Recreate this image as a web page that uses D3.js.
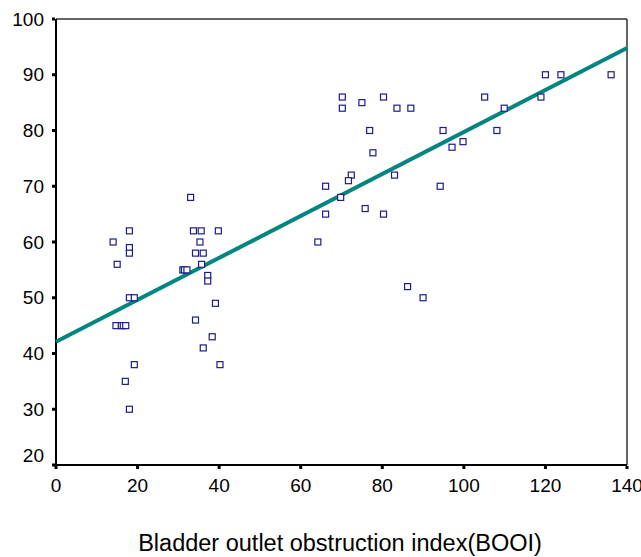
<!DOCTYPE html>
<html>
<head>
<meta charset="utf-8">
<script src="https://cdn.jsdelivr.net/npm/d3@7"></script>
<style>
  body { margin: 0; background: #fff; }
  svg { display: block; font-family: Arial, "Liberation Sans", sans-serif; }
</style>
</head>
<body>
<svg id="chart" width="641" height="557"></svg>
<script>
"use strict";

// BOOI values (x) and the matching outcome (y)
const booi = [14, 15, 14.7, 16, 16.5, 17.1, 19.2, 17, 18, 18, 18, 18, 18, 19.2,
  33, 33.7, 35.6, 39.8, 35.3, 34.2, 36.1, 35.7, 31.1, 31.5, 32.1, 37.2, 37.2,
  39.1, 34.2, 38.3, 36.1, 40.2,
  70.2, 70.2, 75, 80.3, 83.6, 87, 76.9, 77.7, 72.4, 71.7, 66.1, 69.8, 83,
  66.1, 75.8, 80.3, 64.2, 86.2, 90, 94.9, 97.1, 99.8, 94.2,
  120, 123.8, 136.1, 118.9, 105.1, 109.9, 108.1]
const score = [60, 56, 45, 45, 45, 45, 38, 35, 30, 62, 59, 58, 50, 50,
  68, 62, 62, 62, 60, 58, 58, 56, 55, 55, 55, 54, 53,
  49, 46, 43, 41, 38,
  86, 84, 85, 86, 84, 84, 80, 76, 72, 71, 70, 68, 72,
  65, 66, 65, 60, 52, 50, 80, 77, 78, 70,
  90, 90, 90, 86, 86, 84, 80]

// fitted line, value at x = 0 and x = 140
const fitX = [0, 140]
const fitY = [42.1, 94.8]

const xTicks = [0, 20, 40, 60, 80, 100, 120, 140]
const yTicks = [20, 30, 40, 50, 60, 70, 80, 90, 100]

const svg = d3.select("#chart")
const mLeft = 56, mRight = 627, mTop = 19, mBottom = 465

const x = d3.scaleLinear().domain([0, 140]).range([mLeft, mRight])
const y = d3.scaleLinear().domain([20, 100]).range([mBottom, mTop])

// frame, top and right first so the axes sit over them
svg.append("line")
    .attr("x1", mLeft).attr("x2", mRight).attr("y1", mTop).attr("y2", mTop)
    .attr("stroke", "#333").attr("stroke-width", 1.5)
svg.append("line")
    .attr("x1", mRight).attr("x2", mRight).attr("y1", mTop).attr("y2", mBottom)
    .attr("stroke", "#333").attr("stroke-width", 1.5)

// y axis
const yAxis = svg.append("g").attr("transform", `translate(${mLeft},0)`)
yAxis.append("line")
    .attr("x1", 0).attr("x2", 0).attr("y1", mTop).attr("y2", mBottom)
    .attr("stroke", "#000").attr("stroke-width", 2)
yAxis.selectAll("rect.tick")
    .data(yTicks)
    .enter()
    .append("rect")
    .attr("class", "tick")
    .attr("x", -4).attr("y", d => y(d) - 1.5)
    .attr("width", 3).attr("height", 3)
    .attr("fill", "#000")
// the lowest label is nudged up so it clears the x labels
yAxis.selectAll("text")
    .data(yTicks)
    .enter()
    .append("text")
    .attr("x", -12)
    .attr("y", d => y(d) - (d === 20 ? 10 : 0))
    .attr("dy", "0.35em")
    .attr("text-anchor", "end")
    .attr("font-size", 19)
    .attr("fill", "#000")
    .text(d => d)

// x axis
const xAxis = svg.append("g").attr("transform", `translate(0,${mBottom})`)
xAxis.append("line")
    .attr("x1", mLeft - 1).attr("x2", mRight).attr("y1", 0).attr("y2", 0)
    .attr("stroke", "#000").attr("stroke-width", 2)
xAxis.selectAll("rect.tick")
    .data(xTicks)
    .enter()
    .append("rect")
    .attr("class", "tick")
    .attr("x", d => x(d) - 1.5).attr("y", 1)
    .attr("width", 3).attr("height", 3)
    .attr("fill", "#000")
xAxis.selectAll("text")
    .data(xTicks)
    .enter()
    .append("text")
    .attr("x", d => x(d))
    .attr("y", 27)
    .attr("text-anchor", "middle")
    .attr("font-size", 19)
    .attr("fill", "#000")
    .text(d => d)

svg.append("text")
    .attr("x", 340)
    .attr("y", 551)
    .attr("text-anchor", "middle")
    .attr("font-size", 23.5)
    .attr("fill", "#000")
    .text("Bladder outlet obstruction index(BOOI)")

// regression line
svg.append("line")
    .attr("x1", x(fitX[0])).attr("y1", y(fitY[0]))
    .attr("x2", x(fitX[1])).attr("y2", y(fitY[1]))
    .attr("stroke", "#00857f")
    .attr("stroke-width", 4)

// points
const pts = booi.map((b, i) => ({x: b, y: score[i]}))
svg.selectAll("rect.pt")
    .data(pts)
    .enter()
    .append("rect")
    .attr("class", "pt")
    .attr("x", d => x(d.x) - 3)
    .attr("y", d => y(d.y) - 3)
    .attr("width", 6)
    .attr("height", 6)
    .attr("fill", "#fff")
    .attr("stroke", "#1c1c8c")
    .attr("stroke-width", 1.2)
</script>
</body>
</html>
